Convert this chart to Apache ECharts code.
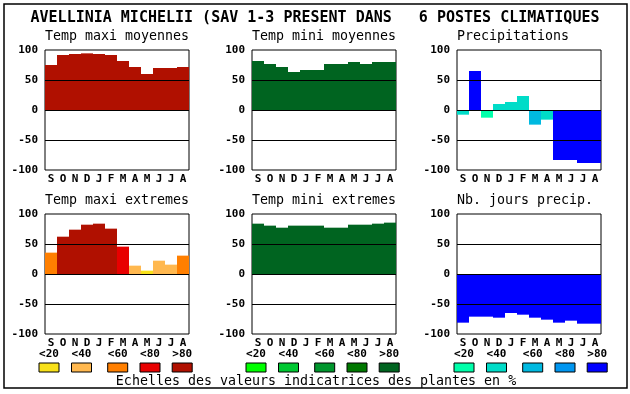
<!DOCTYPE html>
<html><head><meta charset="utf-8">
<script src="https://cdn.jsdelivr.net/npm/echarts@6/dist/echarts.min.js"></script>
<style>html,body{margin:0;padding:0;background:#fff}#c{width:630px;height:394px}</style>
</head><body><div id="c"></div>
<script>
const months = ['S','O','N','D','J','F','M','A','M','J','J','A'];
const yTicks = [-100, -50, 0, 50, 100];
const titleText = 'AVELLINIA MICHELII (SAV 1-3 PRESENT DANS   6 POSTES CLIMATIQUES';
const panelTitles = ['Temp maxi moyennes','Temp mini moyennes','Precipitations','Temp maxi extremes','Temp mini extremes','Nb. jours precip.'];

// values (%)
const tmaxMoy = [75, 91.7, 93.3, 94.4, 93.3, 91.7, 81.7, 71.7, 60, 70, 70, 71.7];
const tminMoy = [81.7, 76.7, 71.7, 63.3, 66.7, 66.7, 76.7, 76.7, 80, 76.7, 80, 80];
const precip = [-7.8, 65, -12.8, 10, 13.3, 23.3, -24.4, -16.1, -83.3, -83.3, -88.3, -88.3];
const tmaxExt = [35.6, 62.2, 73.9, 82.2, 83.9, 75.6, 45.6, 13.9, 5.6, 22.2, 15.6, 30.6];
const tminExt = [83.9, 80.6, 77.2, 80.6, 80.6, 80.6, 77.2, 77.2, 82.2, 82.2, 83.9, 85.6];
const joursPrecip = [-81.1, -71.1, -71.1, -72.8, -65, -67.8, -72.8, -76.1, -81.1, -77.8, -82.8, -82.8];

// colour class of each bar (0:<20 ... 4:>80)
const tmaxMoyCls = [4,4,4,4,4,4,4,4,4,4,4,4];
const tminMoyCls = [4,4,4,4,4,4,4,4,4,4,4,4];
const precipCls = [1,4,0,1,1,1,2,1,4,4,4,4];
const tmaxExtCls = [2,4,4,4,4,4,3,1,0,1,1,2];
const tminExtCls = [4,4,4,4,4,4,4,4,4,4,4,4];
const joursCls = [4,4,4,4,4,4,4,4,4,4,4,4];

const classLabels = ['<20','<40','<60','<80','>80'];
const redScale = ['#f8e11a','#ffb84f','#ff7f00','#e80000','#b01000'];
const greenScale = ['#00ff00','#00c832','#00962d','#007800','#006420'];
const blueScale = ['#00ffaa','#00dcc8','#00b9e0','#0096f0','#0000ff'];
const captionText = 'Echelles des valeurs indicatrices des plantes en %';

const panels = [
  {vals: tmaxMoy, cls: tmaxMoyCls, scale: redScale},
  {vals: tminMoy, cls: tminMoyCls, scale: greenScale},
  {vals: precip, cls: precipCls, scale: blueScale},
  {vals: tmaxExt, cls: tmaxExtCls, scale: redScale},
  {vals: tminExt, cls: tminExtCls, scale: greenScale},
  {vals: joursPrecip, cls: joursCls, scale: blueScale}
];

const colLeft = [45, 252, 457];
const rowTop = [50, 214];
const PW = 144, PH = 120;
const mono = 'DejaVu Sans Mono';

const grid = [], xAxis = [], yAxis = [], series = [], graphic = [];
panels.forEach((p, i) => {
  const c = i % 3, r = Math.floor(i / 3);
  grid.push({left: colLeft[c], top: rowTop[r], width: PW, height: PH, show: true,
    borderColor: '#000', borderWidth: 1, backgroundColor: '#fff'});
  xAxis.push({type: 'category', gridIndex: i, data: months,
    axisLine: {show: false}, axisTick: {show: false},
    axisLabel: {interval: 0, margin: 4, color: '#000', fontFamily: mono, fontWeight: 'bold', fontSize: 11}});
  yAxis.push({type: 'value', gridIndex: i, min: -100, max: 100, interval: 50,
    axisLine: {show: false}, axisTick: {show: false}, splitLine: {show: false},
    axisLabel: {margin: 7, color: '#000', fontFamily: mono, fontWeight: 'bold', fontSize: 11}});
  series.push({type: 'bar', xAxisIndex: i, yAxisIndex: i, barWidth: '100%', barCategoryGap: 0,
    silent: true, animation: false,
    data: p.vals.map((v, k) => ({value: v, itemStyle: {color: p.scale[p.cls[k]]}})),
    markLine: {silent: true, symbol: 'none', animation: false, label: {show: false},
      lineStyle: {color: '#000', width: 1, type: 'solid'},
      data: yTicks.filter(t => t > -100 && t < 100).map(t => ({yAxis: t}))}});
  graphic.push({type: 'text', left: colLeft[c], top: rowTop[r] - 20,
    style: {text: panelTitles[i], font: '13.3px "' + mono + '"', fill: '#000'}});
});

// title + frame
graphic.push({type: 'rect', shape: {x: 4, y: 4, width: 623, height: 384}, style: {fill: 'none', stroke: '#000', lineWidth: 1.5}, z: 0});
graphic.push({type: 'text', x: 315, y: 18, style: {text: titleText, font: 'bold 15px "' + mono + '"', fill: '#000', textAlign: 'center', textVerticalAlign: 'middle'}});

// colour scale legend
const legendStarts = [39, 246, 454];
const legendStep = [32.5, 32.5, 32.5];
[redScale, greenScale, blueScale].forEach((sc, g) => {
  const boxX = [0,1,2,3,4].map(k => legendStarts[g] + [0, 32.5, 68.7, 101, 133.2][k]);
  sc.forEach((col, k) => {
    graphic.push({type: 'rect', shape: {x: boxX[k], y: 363, width: 20, height: 9}, style: {fill: col, stroke: '#000', lineWidth: 1}});
    graphic.push({type: 'text', x: boxX[k] + 10, y: 354, style: {text: classLabels[k], font: 'bold 11px "' + mono + '"', fill: '#000', textAlign: 'center', textVerticalAlign: 'middle'}});
  });
});
graphic.push({type: 'text', x: 316, y: 382, style: {text: captionText, font: '13.3px "' + mono + '"', fill: '#000', textAlign: 'center', textVerticalAlign: 'middle'}});

const chart = echarts.init(document.getElementById('c'), null, {renderer: 'canvas'});
chart.setOption({animation: false, backgroundColor: '#fff', grid, xAxis, yAxis, series, graphic});
</script></body></html>
